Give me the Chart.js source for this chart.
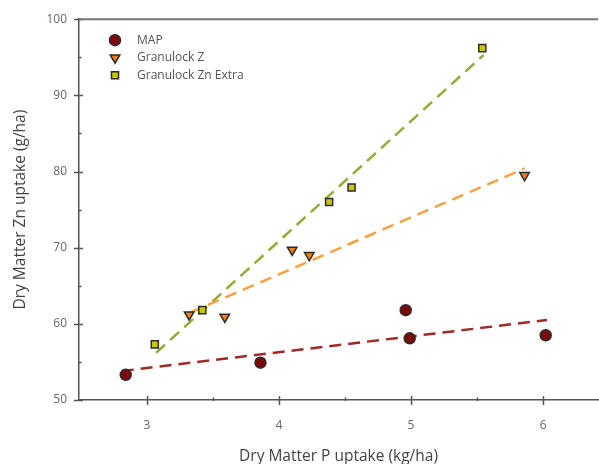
<!DOCTYPE html>
<html>
<head>
<meta charset="utf-8">
<script src="https://cdn.jsdelivr.net/npm/chart.js@4"></script>
<style>
  html, body { margin: 0; padding: 0; background: #ffffff; overflow: hidden; }
  #wrap { width: 605px; height: 466px; position: relative; }
</style>
</head>
<body>
<div id="wrap"><canvas id="chart"></canvas></div>
<script>
// Dry matter P uptake (kg/ha) vs Zn uptake (g/ha) for each fertiliser
const mapP = [2.84, 3.86, 4.96, 4.99, 6.02];
const mapZn = [53.3, 54.9, 61.8, 58.1, 58.5];

const granZP = [3.32, 3.59, 4.10, 4.23, 5.86];
const granZZn = [61.2, 60.9, 69.7, 69.0, 79.5];

const extraP = [3.06, 3.42, 4.38, 4.55, 5.54];
const extraZn = [57.3, 61.8, 76.0, 77.9, 96.2];

// Fitted trend line end points (x, y)
const mapFitP = [2.81, 6.03];
const mapFitZn = [53.8, 60.5];
const granZFitP = [3.33, 5.86];
const granZFitZn = [61.5, 80.4];
const extraFitP = [3.07, 5.55];
const extraFitZn = [56.2, 95.3];

const xMajor = [3, 4, 5, 6];
const xMinor = [3.5, 4.5, 5.5];
const yMajor = [50, 60, 70, 80, 90, 100];
const yMinor = [55, 65, 75, 85, 95];

const seriesNames = ['MAP', 'Granulock Z', 'Granulock Zn Extra'];

const toPts = (xs, ys) => xs.map((x, i) => ({ x: x, y: ys[i] }));

const FONT = '"Open Sans", "Noto Sans", sans-serif';

// Axis tick marks crossing the axis line, plus the frame's top edge
const axisDecor = {
  id: 'axisDecor',
  afterDatasetsDraw(chart) {
    const { ctx, chartArea: a, scales: { x, y } } = chart;
    ctx.save();
    ctx.strokeStyle = '#555';
    ctx.lineWidth = 1.5;
    ctx.beginPath();
    xMajor.forEach(v => {
      const px = Math.round(x.getPixelForValue(v)) + 0.5;
      ctx.moveTo(px, a.bottom - 4); ctx.lineTo(px, a.bottom + 5);
    });
    yMajor.forEach(v => {
      const py = Math.round(y.getPixelForValue(v)) + 0.5;
      ctx.moveTo(a.left - 5, py); ctx.lineTo(a.left + 4, py);
    });
    ctx.stroke();
    ctx.lineWidth = 1.5;
    ctx.beginPath();
    xMinor.forEach(v => {
      const px = Math.round(x.getPixelForValue(v)) + 0.5;
      ctx.moveTo(px, a.bottom - 2.5); ctx.lineTo(px, a.bottom + 1);
    });
    yMinor.forEach(v => {
      const py = Math.round(y.getPixelForValue(v)) + 0.5;
      ctx.moveTo(a.left - 1, py); ctx.lineTo(a.left + 2.5, py);
    });
    ctx.stroke();
    // top edge of the frame
    ctx.strokeStyle = '#777';
    ctx.lineWidth = 2;
    ctx.beginPath();
    ctx.moveTo(a.left, a.top);
    ctx.lineTo(a.right, a.top);
    ctx.stroke();
    ctx.restore();
  }
};

// Legend drawn inside the plot area, top-left
const innerLegend = {
  id: 'innerLegend',
  afterDraw(chart) {
    const { ctx, chartArea: a } = chart;
    const x0 = a.left + 36, y0 = a.top + 21, step = 17.5;
    ctx.save();
    for (let i = 0; i < 3; i++) {
      const ds = chart.data.datasets[i];
      const cy = y0 + i * step;
      ctx.fillStyle = ds.pointBackgroundColor;
      ctx.strokeStyle = ds.pointBorderColor;
      ctx.lineWidth = ds.pointBorderWidth;
      Chart.helpers.drawPoint(ctx, {
        pointStyle: ds.pointStyle,
        rotation: ds.rotation || 0,
        radius: ds.pointRadius,
        borderWidth: ds.pointBorderWidth
      }, x0, cy);
      ctx.fillStyle = '#555';
      ctx.font = '12px ' + FONT;
      ctx.textBaseline = 'middle';
      ctx.textAlign = 'left';
      ctx.fillText(ds.label, x0 + 22, cy);
    }
    ctx.restore();
  }
};

const trend = (xs, ys, color, dash) => ({
  type: 'line',
  label: '',
  data: toPts(xs, ys),
  borderColor: color,
  borderWidth: 2.5,
  borderDash: dash,
  pointRadius: 0,
  fill: false,
  order: 2
});

const marks = (label, xs, ys, color, style, rot) => ({
  type: 'scatter',
  label: label,
  data: toPts(xs, ys),
  backgroundColor: color,
  borderColor: '#2b2b2b',
  pointBackgroundColor: color,
  pointBorderColor: '#2b2b2b',
  pointBorderWidth: 1.5,
  pointRadius: style === 'rect' ? 5 : 5.5,
  pointStyle: style,
  rotation: rot,
  order: 1
});

new Chart(document.getElementById('chart'), {
  data: {
    datasets: [
      marks(seriesNames[0], mapP, mapZn, '#7a0a0a', 'circle', 0),
      marks(seriesNames[1], granZP, granZZn, '#f57f0c', 'triangle', 180),
      marks(seriesNames[2], extraP, extraZn, '#c8c800', 'rect', 0),
      trend(mapFitP, mapFitZn, '#9e2a2a', [12, 7]),
      trend(granZFitP, granZFitZn, '#ffa040', [12, 7]),
      trend(extraFitP, extraFitZn, '#9aa83a', [12, 7])
    ]
  },
  options: {
    responsive: true,
    maintainAspectRatio: false,
    animation: false,
    layout: { padding: { top: 19, right: 0, left: 0, bottom: 0 } },
    plugins: { legend: { display: false }, tooltip: { enabled: false } },
    scales: {
      x: {
        type: 'linear',
        min: 2.486,
        max: 6.416,
        afterBuildTicks: s => { s.ticks = xMajor.map(v => ({ value: v })); },
        afterFit: s => { s.height = 66; },
        grid: { display: true, drawOnChartArea: false, drawTicks: false },
        border: { display: true, color: '#555', width: 1.5 },
        ticks: { padding: 18, color: '#666', font: { family: FONT, size: 12 } },
        title: {
          display: true,
          text: 'Dry Matter P uptake (kg/ha)',
          color: '#444',
          font: { family: FONT, size: 15.5 },
          padding: { top: 0, bottom: 0 }
        }
      },
      y: {
        type: 'linear',
        min: 50,
        max: 100,
        afterBuildTicks: s => { s.ticks = yMajor.map(v => ({ value: v })); },
        afterFit: s => { s.width = 79; },
        grid: { display: true, drawOnChartArea: false, drawTicks: false },
        border: { display: true, color: '#555', width: 1.5 },
        ticks: { padding: 12, color: '#666', font: { family: FONT, size: 12 } },
        title: {
          display: true,
          text: 'Dry Matter Zn uptake (g/ha)',
          color: '#444',
          font: { family: FONT, size: 15.5 },
          padding: { top: 11, bottom: 0 }
        }
      }
    }
  },
  plugins: [axisDecor, innerLegend]
});
</script>
</body>
</html>
